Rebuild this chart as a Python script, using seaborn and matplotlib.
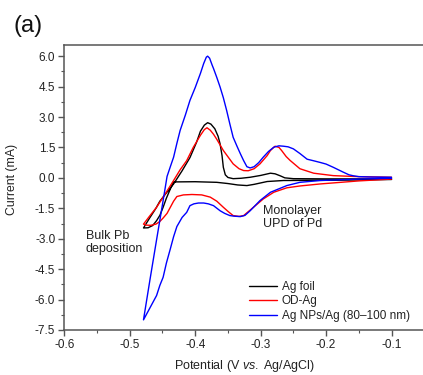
import matplotlib
matplotlib.use("Agg")
import matplotlib.pyplot as plt
from matplotlib.ticker import MultipleLocator
import numpy as np
import pandas as pd
import seaborn as sns

# Cyclic voltammograms: cathodic sweep (-0.1 -> -0.48 V) then anodic sweep back
foil_cath_v = [-0.10, -0.19, -0.265, -0.29, -0.31, -0.321, -0.335, -0.35, -0.367, -0.40, -0.433,
               -0.438, -0.444, -0.449, -0.454, -0.459, -0.465, -0.472, -0.479]
foil_cath_i = [-0.08, -0.12, -0.13, -0.18, -0.32, -0.38, -0.35, -0.28, -0.22, -0.19, -0.20,
               -0.55, -1.00, -1.45, -1.85, -2.11, -2.35, -2.46, -2.47]
foil_anod_v = [-0.479, -0.47, -0.46, -0.454, -0.443, -0.433, -0.42, -0.408, -0.398, -0.392, -0.386,
               -0.381, -0.376, -0.370, -0.365, -0.362, -0.359, -0.357, -0.354, -0.350, -0.342,
               -0.33, -0.316, -0.30, -0.285, -0.278, -0.27, -0.263, -0.25, -0.20, -0.15, -0.10]
foil_anod_i = [-2.47, -2.00, -1.50, -1.15, -0.70, -0.30, 0.35, 1.00, 1.75, 2.30, 2.60,
               2.72, 2.65, 2.42, 2.05, 1.68, 1.10, 0.52, 0.15, 0.02, -0.04,
               -0.02, 0.03, 0.12, 0.23, 0.20, 0.10, 0.00, -0.04, -0.05, -0.05, -0.05]

od_cath_v = [-0.10, -0.15, -0.209, -0.24, -0.26, -0.28, -0.296, -0.311, -0.326, -0.333, -0.342,
             -0.35, -0.357, -0.367, -0.377, -0.39, -0.405, -0.418, -0.428, -0.433, -0.438,
             -0.443, -0.449, -0.454, -0.460, -0.468, -0.475, -0.479]
od_cath_i = [-0.06, -0.15, -0.30, -0.40, -0.49, -0.71, -1.04, -1.45, -1.86, -1.90, -1.86,
             -1.65, -1.45, -1.15, -0.95, -0.84, -0.82, -0.84, -0.92, -1.15, -1.45,
             -1.75, -1.98, -2.15, -2.28, -2.34, -2.33, -2.28]
od_anod_v = [-0.479, -0.47, -0.459, -0.446, -0.433, -0.423, -0.413, -0.403, -0.392, -0.386,
             -0.382, -0.377, -0.372, -0.367, -0.357, -0.342, -0.333, -0.326, -0.319, -0.31,
             -0.301, -0.29, -0.285, -0.278, -0.272, -0.268, -0.261, -0.255, -0.24, -0.219,
             -0.189, -0.15, -0.10]
od_anod_i = [-2.28, -1.90, -1.45, -0.80, -0.13, 0.40, 0.85, 1.50, 2.10, 2.38,
             2.47, 2.35, 2.15, 1.90, 1.35, 0.69, 0.45, 0.36, 0.35, 0.45,
             0.69, 1.10, 1.35, 1.56, 1.50, 1.35, 1.05, 0.86, 0.45, 0.23,
             0.11, 0.06, 0.03]

np_cath_v = [-0.10, -0.15, -0.209, -0.24, -0.26, -0.285, -0.301, -0.316, -0.324, -0.331, -0.34,
             -0.347, -0.355, -0.362, -0.372, -0.38, -0.387, -0.395, -0.402, -0.408, -0.413,
             -0.42, -0.428, -0.433, -0.438, -0.444, -0.449, -0.454, -0.459, -0.469, -0.479]
np_cath_i = [-0.02, -0.06, -0.13, -0.22, -0.38, -0.71, -1.12, -1.62, -1.85, -1.91, -1.89,
             -1.86, -1.75, -1.62, -1.37, -1.28, -1.24, -1.24, -1.28, -1.37, -1.70,
             -1.95, -2.40, -2.90, -3.50, -4.20, -4.90, -5.30, -5.80, -6.40, -7.00]
np_anod_v = [-0.479, -0.469, -0.459, -0.449, -0.443, -0.438, -0.433, -0.428, -0.423, -0.415,
             -0.408, -0.40, -0.392, -0.387, -0.383, -0.381, -0.378, -0.374, -0.372, -0.367,
             -0.362, -0.357, -0.352, -0.347, -0.342, -0.336, -0.331, -0.326, -0.321, -0.316,
             -0.31, -0.303, -0.296, -0.288, -0.28, -0.272, -0.265, -0.258, -0.25, -0.24,
             -0.229, -0.22, -0.209, -0.2, -0.189, -0.175, -0.165, -0.158, -0.15, -0.13, -0.10]
np_anod_i = [-7.00, -5.00, -3.05, -1.12, 0.07, 0.55, 1.02, 1.70, 2.34, 3.10,
             3.82, 4.45, 5.15, 5.64, 5.95, 6.00, 5.90, 5.55, 5.39, 4.95,
             4.48, 3.95, 3.33, 2.65, 2.00, 1.55, 1.19, 0.85, 0.55, 0.49,
             0.55, 0.75, 1.02, 1.30, 1.51, 1.58, 1.56, 1.53, 1.43, 1.20,
             0.92, 0.85, 0.76, 0.68, 0.52, 0.30, 0.15, 0.10, 0.06, 0.04, 0.03]

samples = ["Ag foil", "OD-Ag", "Ag NPs/Ag (80\u2013100 nm)"]
colors = ["black", "red", "blue"]
x_ticks = [-0.6, -0.5, -0.4, -0.3, -0.2, -0.1]
y_ticks = [-7.5, -6.0, -4.5, -3.0, -1.5, 0.0, 1.5, 3.0, 4.5, 6.0]

curves = [
    (foil_cath_v + foil_anod_v, foil_cath_i + foil_anod_i),
    (od_cath_v + od_anod_v, od_cath_i + od_anod_i),
    (np_cath_v + np_anod_v, np_cath_i + np_anod_i),
]
frames = []
for name, (v, i) in zip(samples, curves):
    frames.append(pd.DataFrame({"V": v, "I": i, "sample": name, "order": np.arange(len(v))}))
df = pd.concat(frames, ignore_index=True)

sns.set_style("ticks")
plt.rcParams["font.family"] = ["Liberation Sans", "DejaVu Sans"]
plt.rcParams["mathtext.fontset"] = "custom"
plt.rcParams["mathtext.rm"] = "Liberation Sans"
plt.rcParams["mathtext.it"] = "Liberation Sans:italic"

fig = plt.figure(figsize=(4.23, 3.75), dpi=100)
ax = fig.add_axes([0.152, 0.12, 0.851, 0.76])

sns.lineplot(data=df, x="V", y="I", hue="sample", hue_order=samples,
             palette=colors, sort=False, estimator=None, units="sample",
             linewidth=1.0, ax=ax, legend=False)

ax.set_xlim(-0.6, -0.05)
ax.set_ylim(-7.5, 6.55)
ax.set_xticks(x_ticks)
ax.set_xticklabels([f"{t:.1f}" for t in x_ticks])
ax.set_yticks(y_ticks)
ax.set_yticklabels([f"{t:.1f}" for t in y_ticks])
ax.xaxis.set_minor_locator(MultipleLocator(0.05))
ax.yaxis.set_minor_locator(MultipleLocator(0.75))

spine_col = "#555555"
for s in ax.spines.values():
    s.set_visible(True)
    s.set_color(spine_col)
    s.set_linewidth(1.1)
ax.tick_params(which="major", direction="out", length=4, width=1.0, color=spine_col,
               labelsize=8.5, labelcolor="#222222", pad=2.5)
ax.tick_params(which="minor", direction="out", length=2.5, width=0.8, color=spine_col)

ax.set_xlabel(r"Potential (V $\mathit{vs.}$ Ag/AgCl)", fontsize=9, color="#222222", labelpad=5)
ax.set_ylabel("Current (mA)", fontsize=8.8, color="#222222")
ax.yaxis.set_label_coords(-0.128, 0.53)

ax.text(-0.567, -3.2, "Bulk Pb\ndeposition", fontsize=9, color="#222222",
        ha="left", va="center", linespacing=1.1)
ax.text(-0.296, -1.95, "Monolayer\nUPD of Pd", fontsize=9, color="#222222",
        ha="left", va="center", linespacing=1.1)

handles = [plt.Line2D([], [], color=c, linewidth=1.0) for c in colors]
ax.legend(handles, samples, loc="upper left", bbox_to_anchor=(0.589, 0.251),
          bbox_transform=fig.transFigure, frameon=False, fontsize=8.5,
          handlelength=2.4, handletextpad=0.35, labelspacing=0.22, borderpad=0,
          borderaxespad=0, labelcolor="#222222")

fig.text(0.033, 0.96, "(a)", fontsize=17, color="#111111", ha="left", va="top")

fig.savefig("out.png", dpi=100)
